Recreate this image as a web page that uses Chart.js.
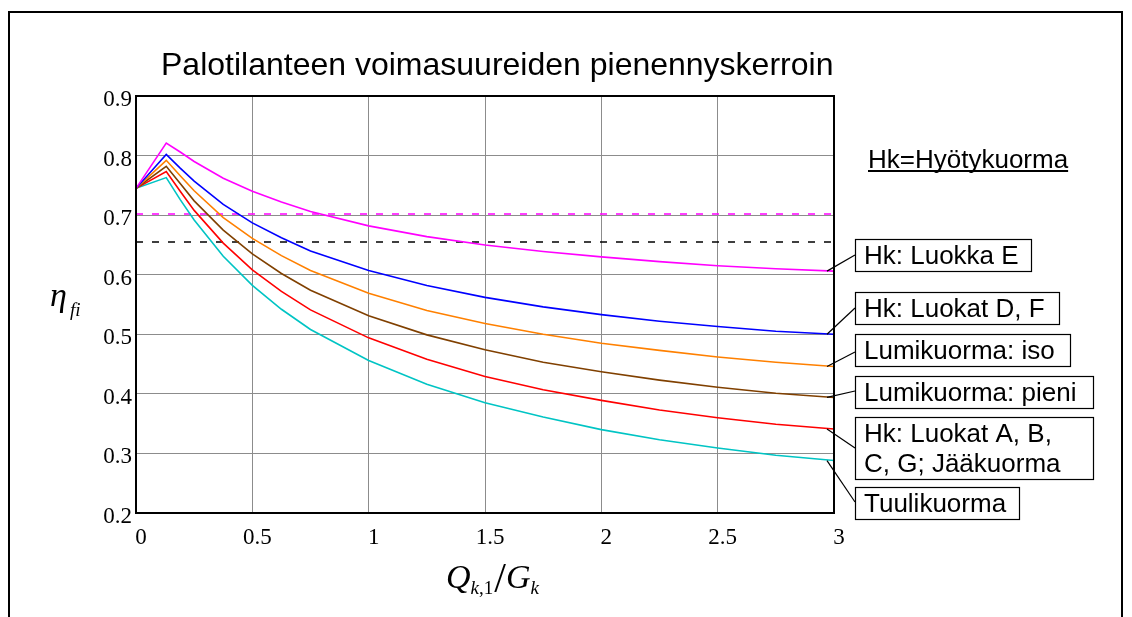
<!DOCTYPE html>
<html>
<head>
<meta charset="utf-8">
<script src="https://cdn.jsdelivr.net/npm/chart.js@4.4.1/dist/chart.umd.min.js"></script>
<style>
  html, body { margin: 0; padding: 0; background: #fff; }
  canvas { display: block; }
</style>
</head>
<body>
<canvas id="etaChart" width="1132" height="617"></canvas>
<script>
// Q_k,1 / G_k
var xVals = [0, 0.13, 0.19, 0.25, 0.375, 0.5, 0.625, 0.75, 1, 1.25, 1.5, 1.75, 2, 2.25, 2.5, 2.75, 3];

// eta_fi
var hkE      = [0.745, 0.821, 0.806, 0.790, 0.762, 0.740, 0.722, 0.706, 0.682, 0.664, 0.650, 0.639, 0.630, 0.622, 0.615, 0.610, 0.606];
var hkDF     = [0.745, 0.802, 0.779, 0.757, 0.718, 0.687, 0.662, 0.640, 0.607, 0.582, 0.562, 0.546, 0.533, 0.522, 0.513, 0.505, 0.500];
var lumiIso  = [0.745, 0.792, 0.766, 0.741, 0.696, 0.661, 0.632, 0.607, 0.569, 0.540, 0.518, 0.500, 0.485, 0.473, 0.462, 0.453, 0.446];
var lumiPien = [0.745, 0.782, 0.753, 0.724, 0.675, 0.635, 0.602, 0.574, 0.531, 0.499, 0.474, 0.453, 0.437, 0.423, 0.411, 0.401, 0.394];
var hkABCG   = [0.745, 0.773, 0.740, 0.708, 0.653, 0.608, 0.572, 0.541, 0.494, 0.458, 0.429, 0.407, 0.389, 0.373, 0.360, 0.349, 0.341];
var tuuli    = [0.745, 0.763, 0.726, 0.692, 0.631, 0.582, 0.542, 0.508, 0.456, 0.416, 0.385, 0.361, 0.340, 0.323, 0.309, 0.297, 0.288];

var seriesNames = ["Hk: Luokka E", "Hk: Luokat D, F", "Lumikuorma: iso", "Lumikuorma: pieni", "Hk: Luokat A, B,\nC, G; Jääkuorma", "Tuulikuorma"];
var seriesData = [hkE, hkDF, lumiIso, lumiPien, hkABCG, tuuli];
var lineColors = ["#ff00ff", "#0000ff", "#ff8000", "#804000", "#ff0000", "#00c4c4"];

// horizontal dashed reference levels
var dashMagenta = 0.702;
var dashBlack = 0.655;

var xMin = 0, xMax = 3, xStep = 0.5;
var yMin = 0.2, yMax = 0.9, yStep = 0.1;

var chartTitle = "Palotilanteen voimasuureiden pienennyskerroin";
var noteText = "Hk=Hyötykuorma";

function pts(ys) {
  return xVals.map(function (x, i) { return { x: x, y: ys[i] }; });
}

var datasets = seriesData.map(function (ys, i) {
  return {
    label: seriesNames[i],
    data: pts(ys),
    borderColor: lineColors[i],
    borderWidth: 1.6,
    pointRadius: 0,
    tension: 0,
    fill: false
  };
});
datasets.push({
  label: "ref1",
  data: [{ x: xMin, y: dashMagenta }, { x: xMax, y: dashMagenta }],
  borderColor: "#ff00ff", borderWidth: 1.6, borderDash: [7, 9], pointRadius: 0
});
datasets.push({
  label: "ref2",
  data: [{ x: xMin, y: dashBlack }, { x: xMax, y: dashBlack }],
  borderColor: "#000000", borderWidth: 1.6, borderDash: [7, 9], pointRadius: 0
});

// label boxes to the right: x, y, w, h, leader end y
var boxes = [
  [855, 239, 176, 32, 255],
  [855, 292, 204, 32, 308],
  [855, 334, 215, 32, 352],
  [855, 376, 238, 32, 391],
  [855, 417, 238, 62, 448],
  [855, 487, 164, 32, 502]
];

var decorations = {
  id: "decorations",
  afterDraw: function (chart) {
    var ctx = chart.ctx;
    var area = chart.chartArea;
    var ys = chart.scales.y;
    ctx.save();

    // outer frame
    ctx.strokeStyle = "#000";
    ctx.lineWidth = 2;
    ctx.beginPath();
    ctx.moveTo(9, 640); ctx.lineTo(9, 12); ctx.lineTo(1122, 12); ctx.lineTo(1122, 640);
    ctx.stroke();

    // plot box
    ctx.strokeRect(area.left, area.top, area.right - area.left, area.bottom - area.top);

    // title
    ctx.fillStyle = "#000";
    ctx.textAlign = "left";
    ctx.textBaseline = "alphabetic";
    ctx.font = '32px "Liberation Sans", Arial, sans-serif';
    ctx.fillText(chartTitle, 161, 75);

    // note
    ctx.font = '26px "Liberation Sans", Arial, sans-serif';
    ctx.fillText(noteText, 868, 168);
    var nw = ctx.measureText(noteText).width;
    ctx.beginPath();
    ctx.moveTo(868, 171); ctx.lineTo(868 + nw, 171);
    ctx.stroke();

    // label boxes + leader lines
    ctx.lineWidth = 1.2;
    boxes.forEach(function (b, i) {
      var ys0 = ys.getPixelForValue(seriesData[i][seriesData[i].length - 1]);
      ctx.beginPath();
      ctx.moveTo(area.right - 7, ys0);
      ctx.lineTo(b[0], b[4]);
      ctx.stroke();
      ctx.fillStyle = "#fff";
      ctx.fillRect(b[0], b[1], b[2], b[3]);
      ctx.strokeRect(b[0] + 0.5, b[1] + 0.5, b[2], b[3]);
      ctx.fillStyle = "#000";
      var lines = seriesNames[i].split("\n");
      lines.forEach(function (t, j) {
        ctx.fillText(t, b[0] + 9, b[1] + 25 + j * 30);
      });
    });

    // y axis title: eta_fi
    ctx.font = 'italic 34px "Liberation Serif", "Times New Roman", serif';
    ctx.fillText("\u03B7", 50, 306);
    ctx.font = 'italic 19px "Liberation Serif", "Times New Roman", serif';
    ctx.fillText("fi", 70, 316);

    // x axis title: Q_k,1 / G_k
    var x = 446, base = 588;
    ctx.font = 'italic 34px "Liberation Serif", "Times New Roman", serif';
    ctx.fillText("Q", x, base); x += ctx.measureText("Q").width;
    ctx.font = 'italic 19px "Liberation Serif", "Times New Roman", serif';
    ctx.fillText("k", x, base + 6); x += ctx.measureText("k").width;
    ctx.font = '19px "Liberation Serif", "Times New Roman", serif';
    ctx.fillText(",1", x, base + 6); x += ctx.measureText(",1").width + 1;
    ctx.font = '42px "Liberation Serif", "Times New Roman", serif';
    ctx.fillText("/", x, base + 4); x += ctx.measureText("/").width;
    ctx.font = 'italic 34px "Liberation Serif", "Times New Roman", serif';
    ctx.fillText("G", x, base); x += ctx.measureText("G").width;
    ctx.font = 'italic 19px "Liberation Serif", "Times New Roman", serif';
    ctx.fillText("k", x, base + 6);

    ctx.restore();
  }
};

var tickFont = { family: '"Liberation Serif", "Times New Roman", serif', size: 23 };

new Chart("etaChart", {
  type: "line",
  data: { datasets: datasets },
  options: {
    responsive: false,
    animation: false,
    layout: { padding: { left: 0, right: 298, top: 96, bottom: 0 } },
    plugins: {
      legend: { display: false },
      tooltip: { enabled: false },
      title: { display: false }
    },
    scales: {
      x: {
        type: "linear",
        min: xMin, max: xMax,
        afterFit: function (s) { s.height = 104; },
        grid: { color: "#8c8c8c", lineWidth: 1, drawTicks: false },
        border: { display: true, color: "#000", width: 2 },
        ticks: {
          stepSize: xStep, color: "#000", font: tickFont, padding: 11, labelOffset: 5,
          maxRotation: 0,
          callback: function (v) { return String(Math.round(v * 10) / 10); }
        }
      },
      y: {
        type: "linear",
        min: yMin, max: yMax,
        afterFit: function (s) { s.width = 136; },
        grid: { color: "#8c8c8c", lineWidth: 1, drawTicks: false },
        border: { display: true, color: "#000", width: 2 },
        ticks: {
          stepSize: yStep, color: "#000", font: tickFont, padding: 4, labelOffset: 4,
          callback: function (v) { return v.toFixed(1); }
        }
      }
    }
  },
  plugins: [decorations]
});
</script>
</body>
</html>
